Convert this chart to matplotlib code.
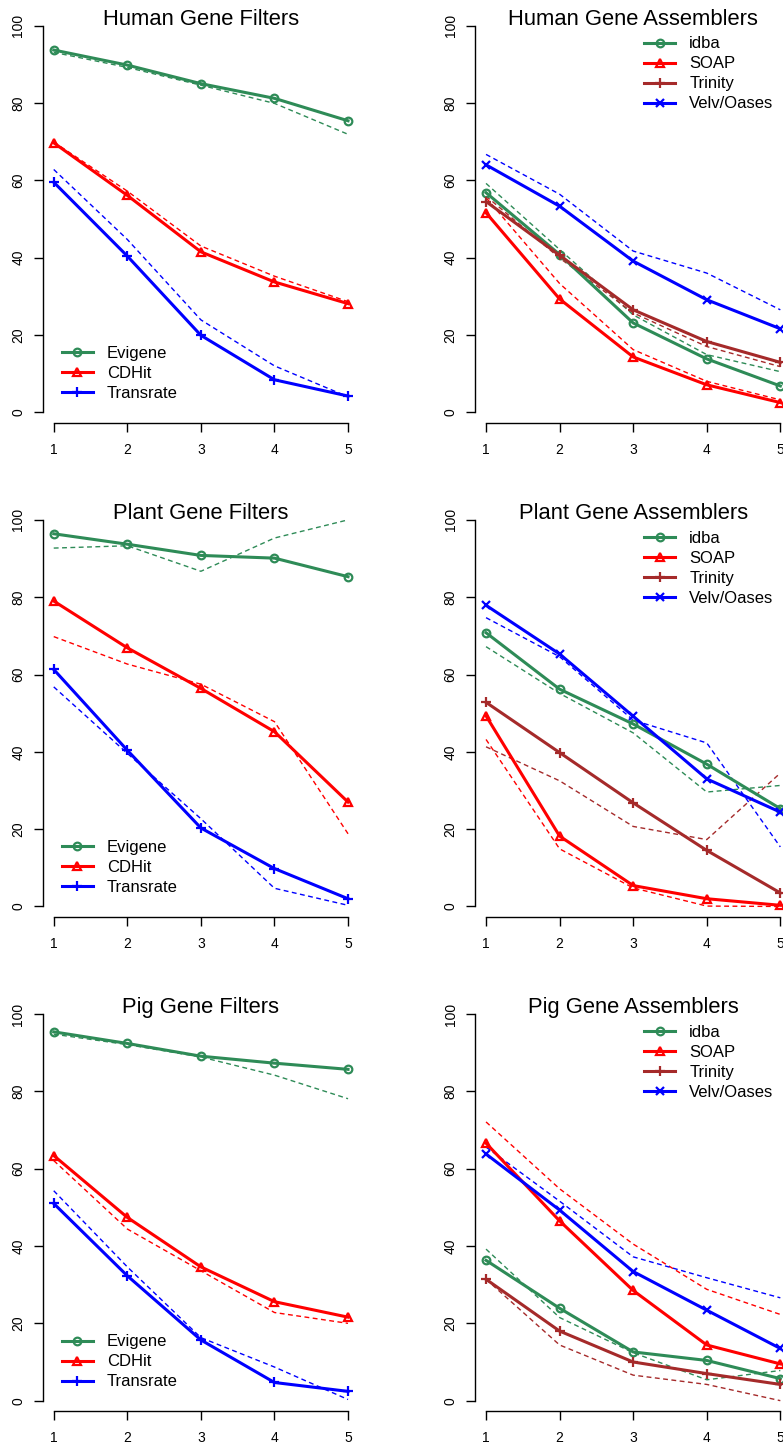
import numpy as np
import matplotlib
matplotlib.use("Agg")
import matplotlib.pyplot as plt

plt.rcParams['font.family'] = ['Liberation Sans', 'DejaVu Sans']

# x positions
x = [1, 2, 3, 4, 5]

filter_names = ["Evigene", "CDHit", "Transrate"]
filter_colors = ["seagreen", "red", "blue"]
filter_markers = ["o", "^", "+"]

asm_names = ["idba", "SOAP", "Trinity", "Velv/Oases"]
asm_colors = ["seagreen", "red", "brown", "blue"]
asm_markers = ["o", "^", "+", "x"]

# human
human_filters = [[93.7, 89.8, 85.0, 81.2, 75.4],
                 [69.7, 56.1, 41.5, 33.7, 28.1],
                 [59.5, 40.4, 19.9, 8.4, 4.2]]
human_filters_dash = [[93.1, 89.2, 84.6, 79.9, 71.9],
                      [69.9, 57.2, 43.0, 35.2, 28.6],
                      [62.8, 44.7, 23.9, 12.0, 4.0]]
human_asm = [[56.8, 40.8, 23.1, 13.8, 6.8],
             [51.6, 29.3, 14.3, 7.1, 2.5],
             [54.5, 40.6, 26.5, 18.3, 12.9],
             [64.0, 53.3, 39.1, 29.1, 21.6]]
human_asm_dash = [[59.2, 42.1, 25.2, 14.9, 10.5],
                  [55.5, 33.3, 16.2, 8.0, 3.2],
                  [55.9, 39.9, 25.7, 17.0, 11.8],
                  [66.7, 56.4, 41.7, 36.0, 26.5]]

# plant
plant_filters = [[96.4, 93.7, 90.8, 90.1, 85.3],
                 [79.0, 66.9, 56.4, 45.2, 27.0],
                 [61.3, 40.4, 20.3, 9.8, 2.0]]
plant_filters_dash = [[92.7, 93.3, 86.7, 95.3, 100.0],
                      [69.8, 62.7, 57.5, 47.8, 18.8],
                      [56.8, 39.6, 22.7, 4.7, 0.3]]
plant_asm = [[70.8, 56.2, 47.2, 36.8, 25.3],
             [49.3, 18.2, 5.4, 2.0, 0.3],
             [52.8, 39.8, 26.8, 14.5, 3.5],
             [77.9, 65.3, 49.2, 33.0, 24.4]]
plant_asm_dash = [[67.2, 55.1, 44.9, 29.6, 31.3],
                  [43.2, 14.9, 4.8, 0.1, 0.0],
                  [41.3, 32.5, 20.7, 17.3, 34.5],
                  [74.7, 64.6, 48.2, 42.3, 15.4]]

# pig
pig_filters = [[95.4, 92.4, 89.1, 87.3, 85.7],
               [63.4, 47.4, 34.6, 25.6, 21.6],
               [51.0, 32.3, 15.7, 4.7, 2.4]]
pig_filters_dash = [[94.8, 92.1, 88.9, 84.2, 78.1],
                    [62.1, 44.4, 33.6, 22.8, 20.0],
                    [54.3, 34.6, 16.3, 8.7, 0.3]]
pig_asm = [[36.3, 23.9, 12.6, 10.4, 5.7],
           [66.6, 46.5, 28.5, 14.4, 9.5],
           [31.4, 18.0, 10.0, 7.0, 4.2],
           [63.8, 49.3, 33.4, 23.4, 13.5]]
pig_asm_dash = [[39.2, 21.5, 12.4, 5.4, 7.8],
                [72.1, 54.8, 40.5, 28.8, 22.3],
                [31.4, 14.4, 6.6, 4.2, 0.0],
                [65.6, 51.6, 37.2, 31.8, 26.6]]

W, H = 783, 1444
fig = plt.figure(figsize=(W/100, H/100), dpi=100)

# pixel layout (the original is a cropped R figure)
col_off = 432.3
row_off = 494.2
px_unit_x = 73.575
px_unit_y = 3.866
ylo, yhi = -2.7, 102.7
xlo, xhi = 0.85, 5.15

msize = {"o": 5.5, "^": 6.0, "+": 7.0, "x": 6.0}

plt.rcParams.update({'legend.fontsize': 12, 'legend.handlelength': 1.86,
                     'legend.handletextpad': 0.84, 'legend.labelspacing': 0.3,
                     'legend.borderpad': 0.0, 'legend.borderaxespad': 0.0})

def make_panel(r, c, title, solid, dashed, names, colors, markers, legend_loc):
    left = 42.7 + col_off*c
    bottom = 422.7 + row_off*r
    wpx = (xhi - xlo)*px_unit_x
    hpx = (yhi - ylo)*px_unit_y
    ax = fig.add_axes([left/W, 1 - bottom/H, wpx/W, hpx/H])
    ax.set_xlim(xlo, xhi)
    ax.set_ylim(ylo, yhi)
    ax.patch.set_alpha(0)
    for k in range(len(names)):
        ax.plot(x, dashed[k], color=colors[k], lw=1.0, dashes=(3.5, 2.5), clip_on=False)
    handles = []
    for k in range(len(names)):
        h, = ax.plot(x, solid[k], color=colors[k], lw=2.2, marker=markers[k],
                     ms=msize[markers[k]], mew=1.6, mfc='none', label=names[k],
                     clip_on=False)
        handles.append(h)
    for s in ['top', 'right']:
        ax.spines[s].set_visible(False)
    ax.spines['left'].set_bounds(0, 100)
    ax.spines['bottom'].set_bounds(1, 5)
    for s in ['left', 'bottom']:
        ax.spines[s].set_linewidth(1.0)
    ax.set_xticks(x)
    ax.set_yticks([0, 20, 40, 60, 80, 100])
    ax.tick_params(direction='out', length=6.5, width=1.0, labelsize=10)
    ax.tick_params(axis='x', pad=8)
    ax.tick_params(axis='y', pad=6)
    for lab in ax.get_yticklabels():
        lab.set_rotation(90)
        lab.set_va('center')
    ax.text(3, 100.3, title, ha='center', va='baseline', fontsize=15.8)
    if legend_loc == 'lower left':
        leg = ax.legend(handles=handles, loc='lower left', bbox_to_anchor=(1.109, 2.9),
                        bbox_transform=ax.transData)
    else:
        leg = ax.legend(handles=handles, loc='upper left', bbox_to_anchor=(3.152, 97.2),
                        bbox_transform=ax.transData)
    leg.get_frame().set_visible(False)
    return ax

make_panel(0, 0, "Human Gene Filters", human_filters, human_filters_dash,
           filter_names, filter_colors, filter_markers, 'lower left')
make_panel(0, 1, "Human Gene Assemblers", human_asm, human_asm_dash,
           asm_names, asm_colors, asm_markers, 'upper left')
make_panel(1, 0, "Plant Gene Filters", plant_filters, plant_filters_dash,
           filter_names, filter_colors, filter_markers, 'lower left')
make_panel(1, 1, "Plant Gene Assemblers", plant_asm, plant_asm_dash,
           asm_names, asm_colors, asm_markers, 'upper left')
make_panel(2, 0, "Pig Gene Filters", pig_filters, pig_filters_dash,
           filter_names, filter_colors, filter_markers, 'lower left')
make_panel(2, 1, "Pig Gene Assemblers", pig_asm, pig_asm_dash,
           asm_names, asm_colors, asm_markers, 'upper left')

fig.savefig("out.png", dpi=100)
